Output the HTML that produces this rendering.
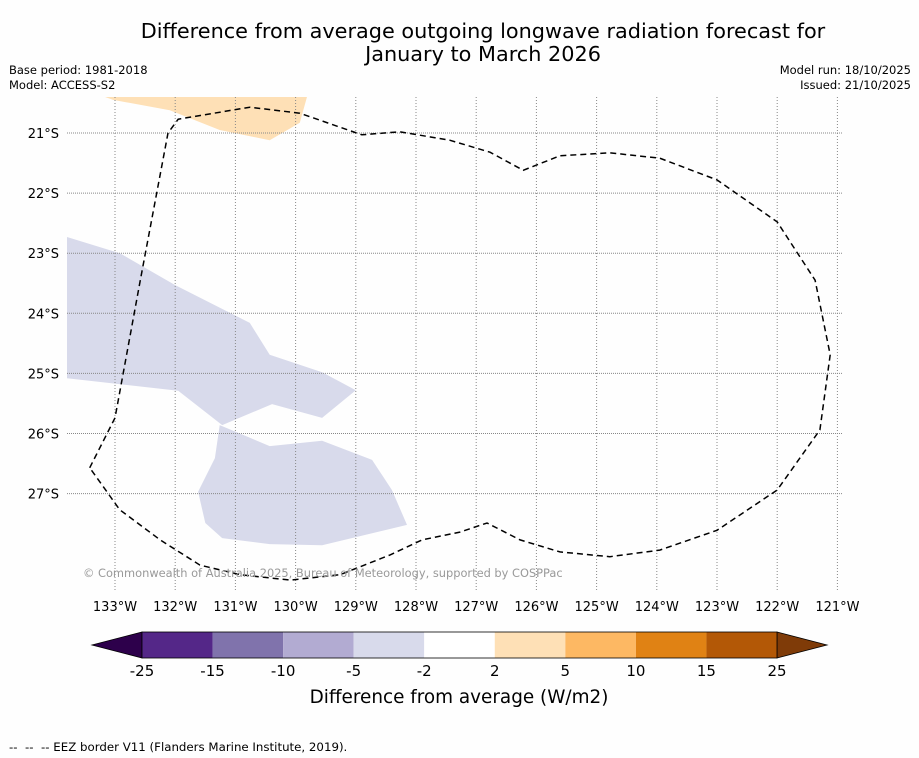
<!DOCTYPE html>
<html><head><meta charset="utf-8"><style>
body{margin:0;background:#fff;font-family:"Liberation Sans","DejaVu Sans",sans-serif;}
#wrap{position:relative;width:919px;height:758px;overflow:hidden;background:#fefefe;}
.t{position:absolute;white-space:nowrap;color:#000;}
</style></head><body>
<div id="wrap">
<div class="t" style="left:0;width:966px;top:20px;text-align:center;font-size:20.8px;line-height:23px;font-family:'DejaVu Sans',sans-serif;">Difference from average outgoing longwave radiation forecast for<br>January to March 2026</div>
<div class="t" style="left:9px;top:63px;font-size:11.5px;line-height:15px;font-family:'DejaVu Sans',sans-serif;">Base period: 1981-2018<br>Model: ACCESS-S2</div>
<div class="t" style="right:8px;top:63px;font-size:11.5px;line-height:15px;text-align:right;font-family:'DejaVu Sans',sans-serif;">Model run: 18/10/2025<br>Issued: 21/10/2025</div>
<svg id="svg" width="919" height="758" style="position:absolute;left:0;top:0" font-family="DejaVu Sans, Liberation Sans, sans-serif"></svg>
</div>
<script>
const lonTicks=[-133,-132,-131,-130,-129,-128,-127,-126,-125,-124,-123,-122,-121];
const latTicks=[-21,-22,-23,-24,-25,-26,-27];
const orangeLon=[-133.17,-133.03,-132.09,-131.26,-130.43,-129.93,-129.81];
const orangeLat=[-20.40,-20.45,-20.62,-20.95,-21.12,-20.83,-20.40];
const purpleALon=[-133.8,-132.92,-132,-130.76,-130.43,-129.56,-129,-129.56,-130.39,-131.22,-131.95,-133.8];
const purpleALat=[-22.73,-23,-23.53,-24.16,-24.69,-24.98,-25.28,-25.74,-25.51,-25.86,-25.29,-25.08];
const purpleBLon=[-131.26,-130.43,-129.56,-128.73,-128.4,-128.15,-129.56,-130.43,-131.22,-131.5,-131.62,-131.34];
const purpleBLat=[-25.86,-26.21,-26.12,-26.44,-26.94,-27.52,-27.86,-27.84,-27.74,-27.49,-26.97,-26.41];
const eezLon=[-133.42,-133,-132.58,-132.12,-131.95,-130.76,-129.93,-128.9,-128.27,-127.44,-126.77,-126.22,-125.61,-124.78,-123.95,-123,-122,-121.37,-121.12,-121.29,-122,-123,-123.95,-124.78,-125.61,-126.27,-126.82,-127.27,-127.9,-128.43,-129.26,-130.09,-130.92,-131.59,-132.25,-132.92,-133.42];
const eezLat=[-26.57,-25.74,-23.45,-21,-20.77,-20.57,-20.67,-21.03,-20.98,-21.12,-21.32,-21.62,-21.38,-21.33,-21.42,-21.78,-22.48,-23.45,-24.69,-25.94,-26.94,-27.61,-27.94,-28.05,-27.97,-27.77,-27.49,-27.64,-27.77,-28.02,-28.35,-28.44,-28.35,-28.19,-27.77,-27.27,-26.57];
const cbColors=["#542788","#8073ac","#b2abd2","#d8daeb","#ffffff","#fee0b6","#fdb863","#e08214","#b35806"];
const cbLabels=["-25","-15","-10","-5","-2","2","5","10","15","25"];
const ns="http://www.w3.org/2000/svg";
const svg=document.getElementById('svg');
const X0=67,X1=843,Y0=97,Y1=590;
function xs(lon){return 115+(lon+133)*60.2;}
function ys(lat){return 133+(-21-lat)*60.1;}
function mk(tag,attrs){const e=document.createElementNS(ns,tag);for(const k in attrs)e.setAttribute(k,attrs[k]);svg.appendChild(e);return e;}
function pts(lo,la){return lo.map((v,i)=>xs(v).toFixed(1)+','+ys(la[i]).toFixed(1)).join(' ');}
const cp=mk('clipPath',{id:'mc'});const cr=document.createElementNS(ns,'rect');cr.setAttribute('x',X0);cr.setAttribute('y',Y0);cr.setAttribute('width',X1-X0);cr.setAttribute('height',Y1-Y0);cp.appendChild(cr);
const g=mk('g',{'clip-path':'url(#mc)'});
function poly(lo,la,fill,name){const p=document.createElementNS(ns,'polygon');p.setAttribute('points',pts(lo,la));p.setAttribute('fill',fill);


g.appendChild(p);}
poly(orangeLon,orangeLat,'#fee0b6','anomaly-region-positive');
poly(purpleALon,purpleALat,'#d8daeb','anomaly-region-negative-a');
poly(purpleBLon,purpleBLat,'#d8daeb','anomaly-region-negative-b');
lonTicks.forEach(l=>{const x=xs(l);
const ln=mk('line',{x1:x,x2:x,y1:Y0,y2:Y1,stroke:'#888','stroke-width':1,'stroke-dasharray':'1,2'});


const t=mk('text',{x:x,y:611,'text-anchor':'middle','font-size':13});t.textContent=Math.abs(l)+'°W';

});
latTicks.forEach(l=>{const y=ys(l);
const ln=mk('line',{x1:X0,x2:X1,y1:y,y2:y,stroke:'#888','stroke-width':1,'stroke-dasharray':'1,1'});


const t=mk('text',{x:59,y:y+5,'text-anchor':'end','font-size':13});t.textContent=Math.abs(l)+'°S';

});
const eez=mk('polyline',{points:pts(eezLon,eezLat),fill:'none',stroke:'#000','stroke-width':1.5,'stroke-dasharray':'6,4'});


const cpy=mk('text',{x:83,y:577,'font-size':11.4,fill:'#999'});cpy.textContent='© Commonwealth of Australia 2025, Bureau of Meteorology, supported by COSPPac';


const cbX=142,cbW=(777-142)/cbColors.length,cbY=632,cbH=26;
const lt=mk('polygon',{points:`${cbX},${cbY} 92,${cbY+cbH/2} ${cbX},${cbY+cbH}`,fill:'#2d004b',stroke:'#000','stroke-width':0.8});


const rt=mk('polygon',{points:`777,${cbY} 827,${cbY+cbH/2} 777,${cbY+cbH}`,fill:'#7f3b08',stroke:'#000','stroke-width':0.8});


cbColors.forEach((c,i)=>{const r=mk('rect',{x:cbX+i*cbW,y:cbY,width:cbW,height:cbH,fill:c});

});
const ob=mk('rect',{x:cbX,y:cbY,width:777-cbX,height:cbH,fill:'none',stroke:'#000','stroke-width':0.8});


cbLabels.forEach((s,i)=>{const t=mk('text',{x:cbX+i*cbW,y:676,'text-anchor':'middle','font-size':15});t.textContent=s;

});
const ct=mk('text',{x:459,y:703,'text-anchor':'middle','font-size':18.4});ct.textContent='Difference from average (W/m2)';


const ft=mk('text',{x:9,y:751,'font-size':11.8,style:'white-space:pre'});ft.textContent='--  --  -- EEZ border V11 (Flanders Marine Institute, 2019).';


</script>
</body></html>
